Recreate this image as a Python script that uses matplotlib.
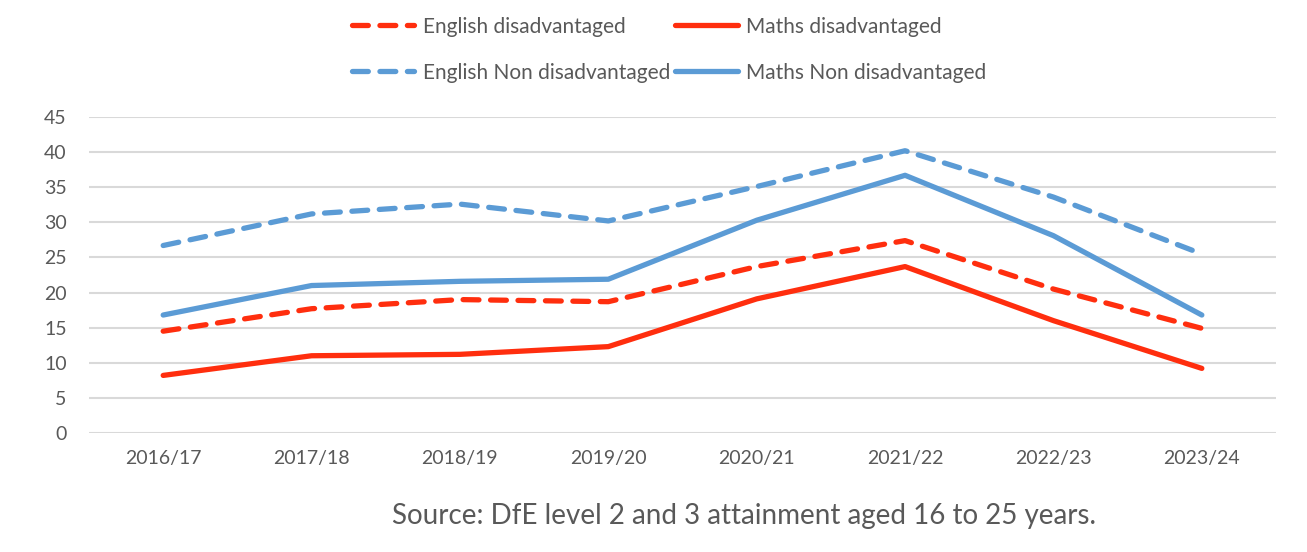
import matplotlib
matplotlib.use("Agg")
import matplotlib.pyplot as plt

years = ["2016/17", "2017/18", "2018/19", "2019/20", "2020/21", "2021/22", "2022/23", "2023/24"]
english_dis = [14.5, 17.7, 19.0, 18.7, 23.7, 27.4, 20.5, 14.9]
maths_dis = [8.2, 11.0, 11.2, 12.3, 19.1, 23.7, 16.0, 9.2]
english_non = [26.7, 31.2, 32.6, 30.2, 35.1, 40.2, 33.6, 25.5]
maths_non = [16.8, 21.0, 21.6, 21.9, 30.3, 36.7, 28.1, 16.8]
yticks = [0, 5, 10, 15, 20, 25, 30, 35, 40, 45]

RED = "#FF2E0E"
BLUE = "#5B9BD5"
TXT = "#595959"
FONT = ["Lato", "DejaVu Sans"]
plt.rcParams["font.family"] = FONT

fig = plt.figure(figsize=(13.07, 5.52), dpi=100)
ax = fig.add_axes([0.0681, 0.2156, 0.9082, 0.5724])

x = list(range(len(years)))
lw = 3.8
dash = (3.0, 2.2)
l1, = ax.plot(x, english_dis, color=RED, lw=lw, linestyle=(0, dash), dash_capstyle="round", label="English disadvantaged")
l2, = ax.plot(x, maths_dis, color=RED, lw=lw, solid_capstyle="round", solid_joinstyle="round", label="Maths disadvantaged")
l3, = ax.plot(x, english_non, color=BLUE, lw=lw, linestyle=(0, dash), dash_capstyle="round", label="English Non disadvantaged")
l4, = ax.plot(x, maths_non, color=BLUE, lw=lw, solid_capstyle="round", solid_joinstyle="round", label="Maths Non disadvantaged")

ax.set_xlim(-0.5, len(years) - 0.5)
ax.set_ylim(0, 45)
ax.set_yticks(yticks)
ax.set_xticks(x)
ax.set_xticklabels(years)
ax.grid(axis="y", color="#D9D9D9", lw=1.5)
ax.set_axisbelow(True)
for s in ax.spines.values():
    s.set_visible(False)
ax.tick_params(axis="both", length=0, colors=TXT, labelsize=14)
ax.tick_params(axis="y", pad=16)
ax.tick_params(axis="x", pad=12)

leg = fig.legend(handles=[l1, l3, l2, l4], ncol=2, loc="center", bbox_to_anchor=(0.512, 0.910),
                 frameon=False, fontsize=15, handlelength=3.0, handletextpad=0.4,
                 columnspacing=0.25, labelspacing=1.25, labelcolor=TXT)

fig.text(0.569, 0.065, "Source: DfE level 2 and 3 attainment aged 16 to 25 years.",
         ha="center", va="center", fontsize=20, color=TXT)

fig.savefig("out.png", dpi=100)
